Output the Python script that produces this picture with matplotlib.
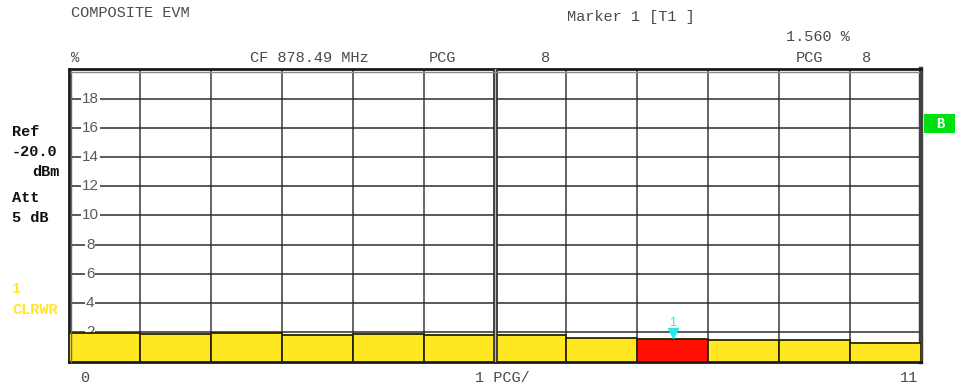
import numpy as np
import matplotlib.pyplot as plt
from matplotlib.lines import Line2D
from matplotlib.patches import Rectangle
from matplotlib.transforms import offset_copy

# EVM per power control group (PCG)
pcg = np.arange(12)
evm = [1.96, 1.89, 1.93, 1.80, 1.86, 1.78, 1.78, 1.64, 1.56, 1.48, 1.48, 1.30]
marker_pcg = 8
marker_val = 1.560
y_ticks = [2, 4, 6, 8, 10, 12, 14, 16, 18]

W, H = 955, 385
mono = 'Liberation Mono'
sans = 'Liberation Sans'
txt_gray = '#4a4a4a'
yellow = '#FFE822'
red = '#FF1000'
cyan = '#22E8F0'


def fx(px):
    return px / W


def fy(py):
    return 1 - py / H


fig = plt.figure(figsize=(W / 100, H / 100), dpi=100)
fig.patch.set_facecolor('white')

left, right, top, bottom = 69, 921, 69.3, 361.5
ax = fig.add_axes([fx(left), fy(bottom), fx(right - left), (bottom - top) / H])
ax.set_xlim(-0.5, 11.5)
ax.set_ylim(0, 20)
ax.set_xticks([])
ax.set_yticks([])

# grid
for k in range(11):
    ax.axvline(k + 0.5, color='#3c3c3c', lw=1.1, zorder=1)
for v in y_ticks:
    ax.axhline(v, color='#2c2c2c', lw=1.1, zorder=1)
    ax.text(-0.2, v, str(v), ha='center', va='center', fontsize=11,
            color='#5a5a5a', family=sans, zorder=2,
            bbox=dict(fc='white', ec='none', pad=0.6))

# centre line is doubled
ax.axvline(5.5, color='#2a2a2a', lw=3.4, zorder=4)
ax.axvline(5.5, color='#b8b8b8', lw=1.0, zorder=4)

colors = [red if i == marker_pcg else yellow for i in pcg]
ax.bar(pcg, evm, width=1.0, color=colors, edgecolor='#2a2400', lw=1.3, zorder=3)

# marker 1
mk_tr = offset_copy(ax.transData, fig=fig, x=0, y=4, units='points')
ax.plot([marker_pcg], [marker_val], marker='v', color=cyan, markersize=7,
        transform=mk_tr, zorder=5, clip_on=False)
ax.text(marker_pcg, marker_val, '1', color=cyan, fontsize=9, family=sans,
        ha='center', va='bottom', zorder=5,
        transform=offset_copy(ax.transData, fig=fig, x=0, y=7, units='points'))

for s in ['left', 'top', 'bottom']:
    ax.spines[s].set_color('#1a1a1a')
    ax.spines[s].set_linewidth(2.0)
ax.spines['right'].set_color('#404040')
ax.spines['right'].set_linewidth(3.2)

# inner frame lines
fig.add_artist(Line2D([fx(71), fx(71)], [fy(71), fy(bottom)], color='#6a6a6a', lw=1.0))
fig.add_artist(Line2D([fx(71), fx(right - 2)], [fy(71.8), fy(71.8)], color='#8a8a8a', lw=1.0))

# header texts
fig.text(fx(71), fy(13), 'COMPOSITE EVM', family=mono, fontsize=11, color=txt_gray, va='center')
fig.text(fx(567), fy(17), 'Marker 1 [T1 ]', family=mono, fontsize=11, color=txt_gray, va='center')
fig.text(fx(786), fy(37), '1.560 %', family=mono, fontsize=11, color=txt_gray, va='center')
fig.text(fx(71), fy(58), '%', family=mono, fontsize=10, color=txt_gray, va='center')
fig.text(fx(250), fy(58), 'CF 878.49 MHz', family=mono, fontsize=11, color=txt_gray, va='center')
fig.text(fx(429), fy(58), 'PCG', family=mono, fontsize=11, color=txt_gray, va='center')
fig.text(fx(546), fy(58), '8', family=mono, fontsize=11, color=txt_gray, va='center', ha='center')
fig.text(fx(796), fy(58), 'PCG', family=mono, fontsize=11, color=txt_gray, va='center')
fig.text(fx(867), fy(58), '8', family=mono, fontsize=11, color=txt_gray, va='center', ha='center')

# left panel
for txt, x, y in [('Ref', 12, 132), ('-20.0', 12, 152), ('dBm', 32, 172),
                  ('Att', 12, 198), ('5 dB', 12, 218)]:
    fig.text(fx(x), fy(y), txt, family=mono, fontsize=11, fontweight='bold',
             color='#111111', va='center')
fig.text(fx(12), fy(289), '1', family=mono, fontsize=11, fontweight='bold', color='#FFE820', va='center')
fig.text(fx(12), fy(310), 'CLRWR', family=mono, fontsize=11, fontweight='bold', color='#FFE820', va='center')

# "B" box on the right
fig.add_artist(Rectangle((fx(924), fy(133)), fx(955 - 924), (133 - 114) / H,
                         facecolor='#00E010', edgecolor='none', transform=fig.transFigure))
fig.text(fx(940), fy(124), 'B', family=mono, fontsize=10, fontweight='bold',
         color='white', ha='center', va='center')

# x axis labels
fig.text(fx(85), fy(378), '0', family=mono, fontsize=11, color=txt_gray, va='center', ha='center')
fig.text(fx(475), fy(378), '1 PCG/', family=mono, fontsize=11, color=txt_gray, va='center')
fig.text(fx(909), fy(378), '11', family=mono, fontsize=11, color=txt_gray, va='center', ha='center')

fig.savefig('out.png', dpi=100)
